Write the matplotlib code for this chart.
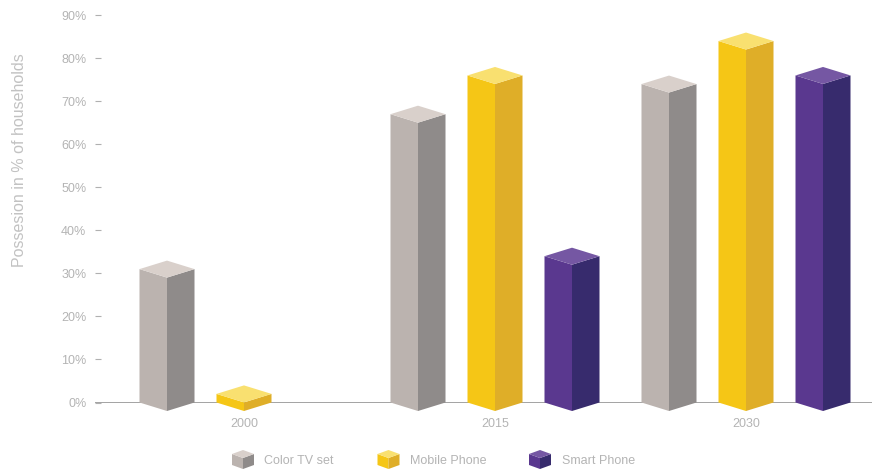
import matplotlib
matplotlib.use("Agg")
import matplotlib.pyplot as plt

# ---- data -------------------------------------------------------------
years = ["2000", "2015", "2030"]
series_names = ["Color TV set", "Mobile Phone", "Smart Phone"]
color_tv = [31, 67, 74]
mobile_phone = [2, 76, 84]
smart_phone = [0, 34, 76]
y_ticks = [0, 10, 20, 30, 40, 50, 60, 70, 80, 90]
y_label = "Possesion in % of households"

# ---- styling ----------------------------------------------------------
# (top face, left face, right face)
face_colors = [
    ("#D9D0CB", "#BBB3AF", "#8F8B8A"),
    ("#F9E070", "#F5C616", "#DFAE28"),
    ("#7557A3", "#5A388F", "#372B6D"),
]
text_color = "#B4B4B4"
axis_color = "#9C9C9C"
FONT = "Liberation Sans"

W, H, DPI = 872, 471, 100
fig = plt.figure(figsize=(W / DPI, H / DPI), dpi=DPI)

# axes placed in pixel units
ax_l, ax_r = 95, 872
ax_b, ax_t = 402.5, 6.6
ax = fig.add_axes([ax_l / W, (H - ax_b) / H, (ax_r - ax_l) / W, (ax_b - ax_t) / H])
group_px = 251.0
center_px = 495.0
ax.set_xlim(1 - (center_px - ax_l) / group_px, 1 + (ax_r - center_px) / group_px)
ax.set_ylim(0, 92)
for s in ax.spines.values():
    s.set_visible(False)
ax.set_facecolor("none")

fig.canvas.draw()
p0 = ax.transData.transform((0, 0))
p1 = ax.transData.transform((1, 1))
px_x = p1[0] - p0[0]   # pixels per x unit
px_y = p1[1] - p0[1]   # pixels per y unit

half_w = 27.5 / px_x     # half width of a column (one face)
depth = 8.5 / px_y       # isometric vertical offset
step = 77.0 / px_x       # spacing between columns inside a group

ax.axhline(0, color=axis_color, lw=1.3, zorder=1)


def draw_column(x, h, colors, axis):
    top, left, right = colors
    kw = dict(edgecolor="none", clip_on=False, zorder=3)
    axis.fill([x - half_w, x, x, x - half_w],
              [0, -depth, h - depth, h], color=left, **kw)
    axis.fill([x, x + half_w, x + half_w, x],
              [-depth, 0, h, h - depth], color=right, **kw)
    axis.fill([x - half_w, x, x + half_w, x],
              [h, h + depth, h, h - depth], color=top, **kw)


all_series = [color_tv, mobile_phone, smart_phone]
for si, values in enumerate(all_series):
    for gi, v in enumerate(values):
        if v <= 0:
            continue
        x = gi + (si - 1) * step
        draw_column(x, v, face_colors[si], ax)

# ticks
ax.set_yticks(y_ticks)
ax.set_yticklabels([f"{t}%" for t in y_ticks], fontfamily=FONT, fontsize=9,
                   color=text_color)
ax.tick_params(axis="y", direction="in", length=4.6, width=0.8,
               color="#B0B0B0", pad=6.3)
ax.set_xticks(range(len(years)))
ax.set_xticklabels(years, fontfamily=FONT, fontsize=9, color=text_color)
ax.tick_params(axis="x", length=0, pad=11)

fig.text(20 / W, 1 - 160 / H, y_label, rotation=90, ha="center", va="center",
         fontfamily=FONT, fontsize=11.5, color="#C2C2C2")

# ---- legend ----------------------------------------------------------
lg = fig.add_axes([0, 0, 1, 1])
lg.set_xlim(0, W)
lg.set_ylim(H, 0)
lg.axis("off")
lg.set_facecolor("none")

icon_x = [243, 388.5, 540]
text_x = [264, 410, 562]
icon_cy = 461
for (top, left, right), ix, tx, name in zip(face_colors, icon_x, text_x, series_names):
    hw, d, fh = 11, 4, 11
    yb = icon_cy + 4     # side corners at the bottom
    yt = yb - fh         # side corners at the top
    lg.fill([ix - hw, ix, ix, ix - hw], [yb, yb + d, yt + d, yt], color=left, edgecolor="none")
    lg.fill([ix, ix + hw, ix + hw, ix], [yb + d, yb, yt, yt + d], color=right, edgecolor="none")
    lg.fill([ix - hw, ix, ix + hw, ix], [yt, yt - d, yt, yt + d], color=top, edgecolor="none")
    lg.text(tx, icon_cy + 0.5, name, ha="left", va="center", fontfamily=FONT,
            fontsize=9, color=text_color)

fig.savefig("out.png", dpi=DPI)
